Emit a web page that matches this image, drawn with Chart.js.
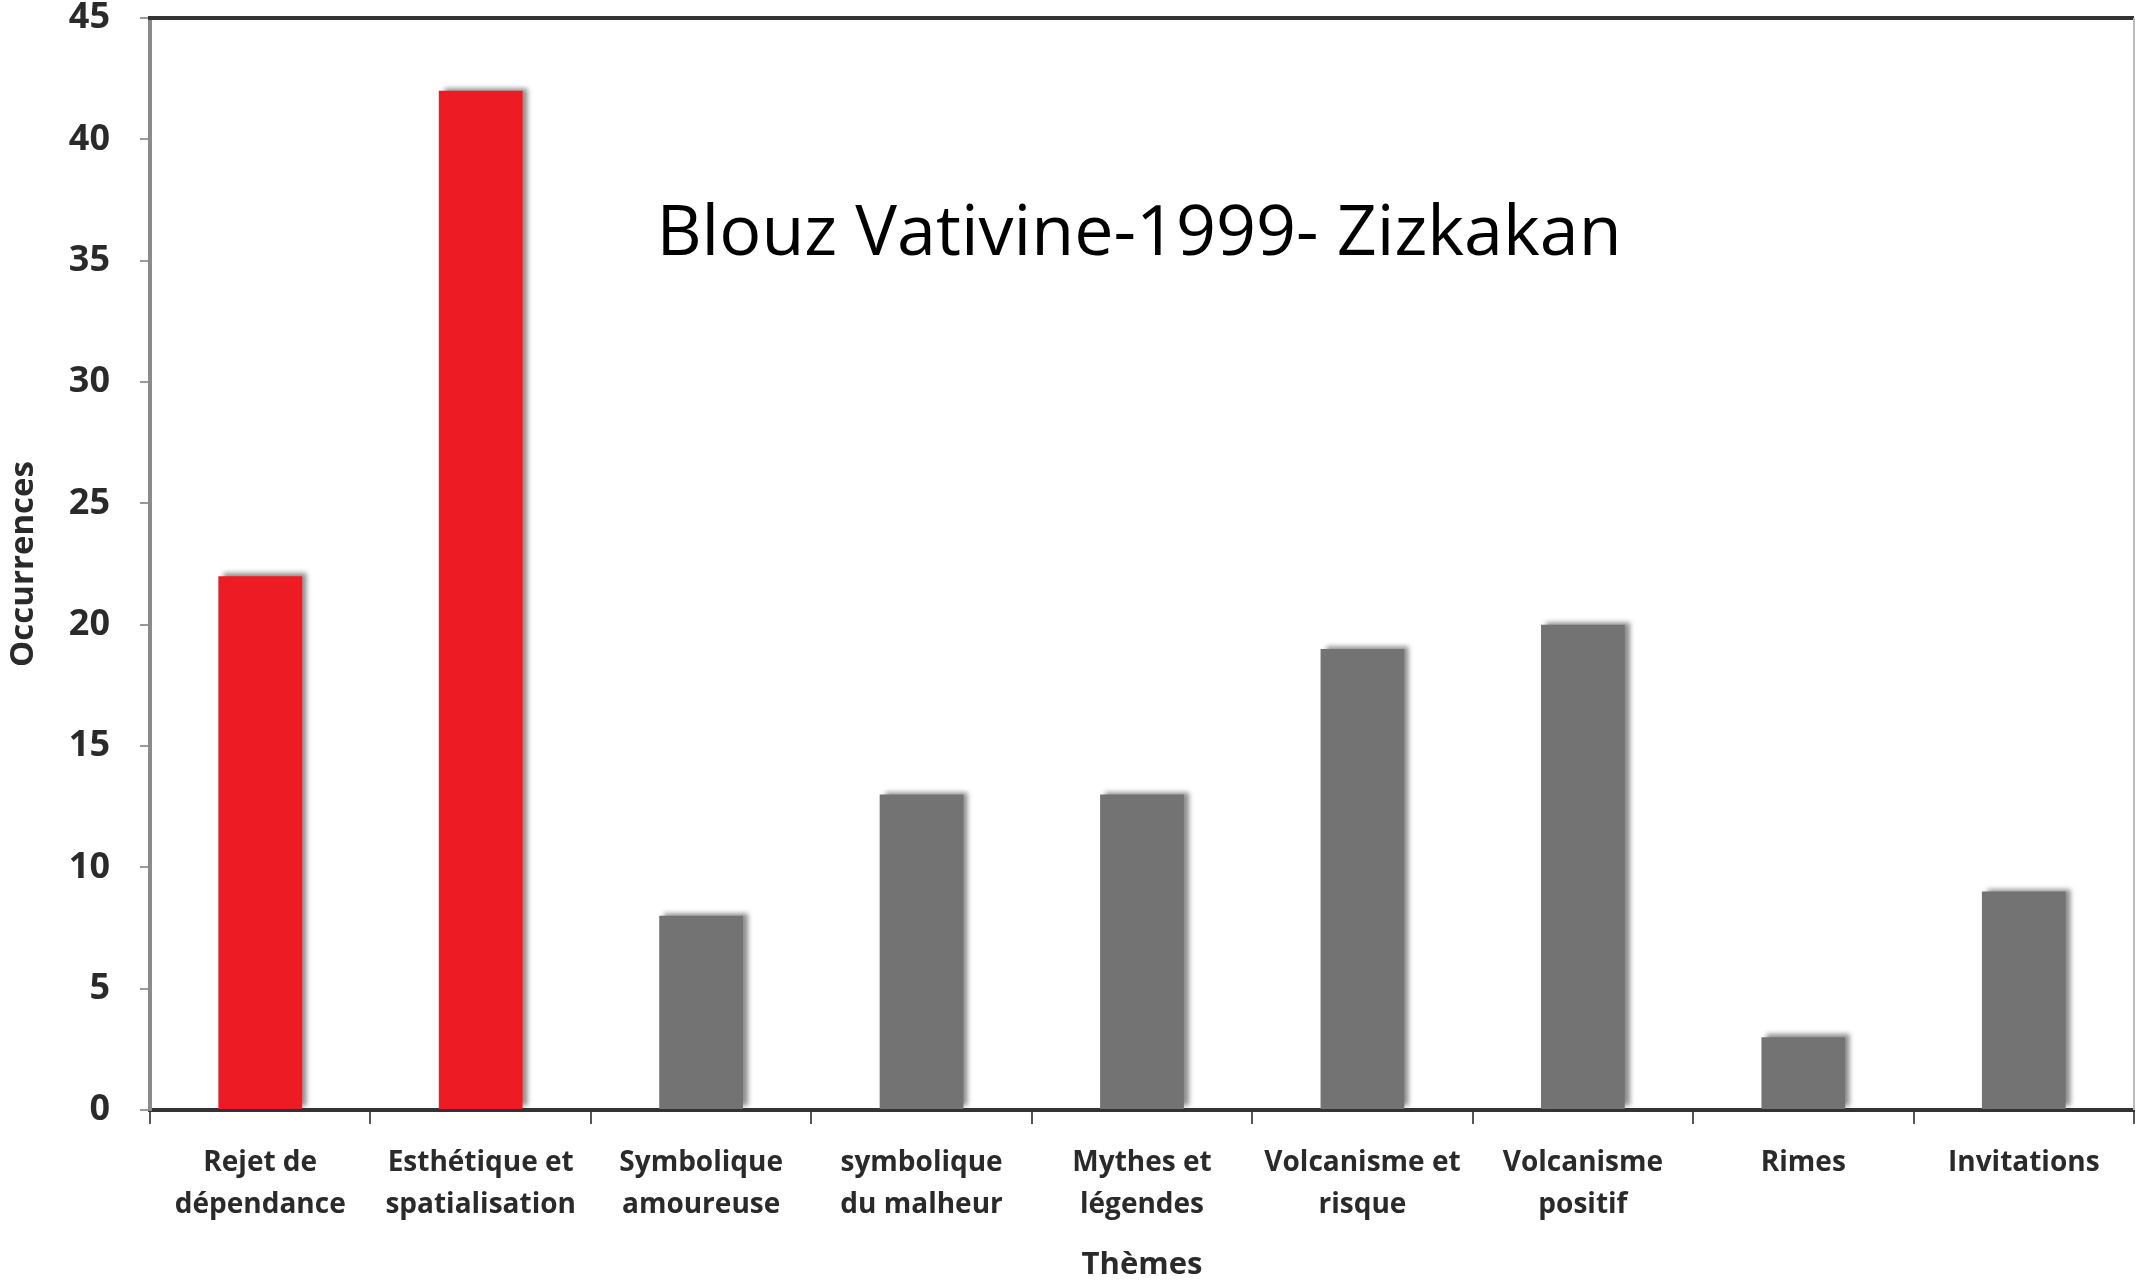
<!DOCTYPE html>
<html>
<head>
<meta charset="utf-8">
<script src="https://cdn.jsdelivr.net/npm/chart.js@4/dist/chart.umd.min.js"></script>
<style>
  html, body { margin: 0; padding: 0; background: #fff; }
  #wrap { width: 2136px; height: 1280px; }
</style>
</head>
<body>
<div id="wrap"><canvas id="themesChart"></canvas></div>
<script>
// data
var themes = [
  ["Rejet de", "dépendance"],
  ["Esthétique et", "spatialisation"],
  ["Symbolique", "amoureuse"],
  ["symbolique", "du malheur"],
  ["Mythes et", "légendes"],
  ["Volcanisme et", "risque"],
  ["Volcanisme", "positif"],
  "Rimes",
  "Invitations"
];
var occurrences = [22, 42, 8, 13, 13, 19, 20, 3, 9];
var barColors = ['#ed1c24', '#ed1c24', '#737373', '#737373', '#737373', '#737373', '#737373', '#737373', '#737373'];
var yTicks = [0, 5, 10, 15, 20, 25, 30, 35, 40, 45];
var chartTitle = "Blouz Vativine-1999- Zizkakan";

var labelFont = "'Open Sans', 'Noto Sans', sans-serif";

// bars get a soft grey shadow like the original
var barShadow = {
  id: 'barShadow',
  beforeDatasetsDraw: function(chart) {
    var ctx = chart.ctx;
    ctx.save();
    ctx.shadowColor = 'rgba(0,0,0,0.45)';
    ctx.shadowBlur = 5;
    ctx.shadowOffsetX = 5;
    ctx.shadowOffsetY = -3;
  },
  afterDatasetsDraw: function(chart) {
    chart.ctx.restore();
  }
};

// top frame line and the title inside the plot
var frameAndTitle = {
  id: 'frameAndTitle',
  afterDraw: function(chart) {
    var ctx = chart.ctx;
    var a = chart.chartArea;
    ctx.save();
    ctx.strokeStyle = '#333';
    ctx.lineWidth = 4;
    ctx.beginPath();
    ctx.moveTo(a.left - 2, a.top);
    ctx.lineTo(a.right, a.top);
    ctx.stroke();
    ctx.strokeStyle = '#bbb';
    ctx.lineWidth = 2;
    ctx.beginPath();
    ctx.moveTo(a.right, a.top);
    ctx.lineTo(a.right, a.bottom);
    ctx.stroke();
    ctx.fillStyle = '#000';
    ctx.font = "70px " + labelFont;
    ctx.textAlign = 'center';
    ctx.textBaseline = 'alphabetic';
    ctx.fillText(chartTitle, 1139, 255);
    ctx.restore();
  }
};

var ctxEl = document.getElementById("themesChart");
var themesChart = new Chart(ctxEl, {
  type: 'bar',
  data: {
    labels: themes,
    datasets: [{
      label: 'Occurrences',
      data: occurrences,
      backgroundColor: barColors,
      borderWidth: 0,
      categoryPercentage: 1.0,
      barPercentage: 0.38
    }]
  },
  options: {
    responsive: true,
    maintainAspectRatio: false,
    animation: false,
    layout: { padding: { top: 18, right: 2, left: 0, bottom: 0 } },
    plugins: {
      legend: { display: false },
      tooltip: { enabled: false }
    },
    scales: {
      x: {
        grid: {
          offset: true,
          drawOnChartArea: false,
          tickLength: 14,
          color: '#555',
          lineWidth: 2
        },
        border: { color: '#333', width: 4 },
        ticks: {
          color: '#2a2a2a',
          font: { family: labelFont, size: 28, weight: 'bold', lineHeight: 1.5 },
          padding: 18,
          maxRotation: 0,
          autoSkip: false
        },
        title: {
          display: true,
          text: 'Thèmes',
          color: '#2a2a2a',
          font: { family: labelFont, size: 31, weight: 'bold' },
          padding: { top: 8, bottom: -4 }
        },
        afterFit: function(scale) { scale.height = 170; }
      },
      y: {
        min: 0,
        max: 45,
        afterBuildTicks: function(scale) {
          scale.ticks = yTicks.map(function(v) { return { value: v }; });
        },
        grid: {
          drawOnChartArea: false,
          tickLength: 10,
          color: '#999',
          lineWidth: 2
        },
        border: { color: '#8a8a8a', width: 4 },
        ticks: {
          color: '#2a2a2a',
          font: { family: labelFont, size: 36, weight: 'bold' },
          padding: 30
        },
        title: {
          display: true,
          text: 'Occurrences',
          color: '#2a2a2a',
          font: { family: labelFont, size: 33, weight: 'bold' },
          padding: { bottom: 0 }
        },
        afterFit: function(scale) {
          scale.width = 150;
          scale.paddingTop = 0;
          scale.paddingBottom = 0;
        }
      }
    }
  },
  plugins: [barShadow, frameAndTitle]
});
</script>
</body>
</html>
